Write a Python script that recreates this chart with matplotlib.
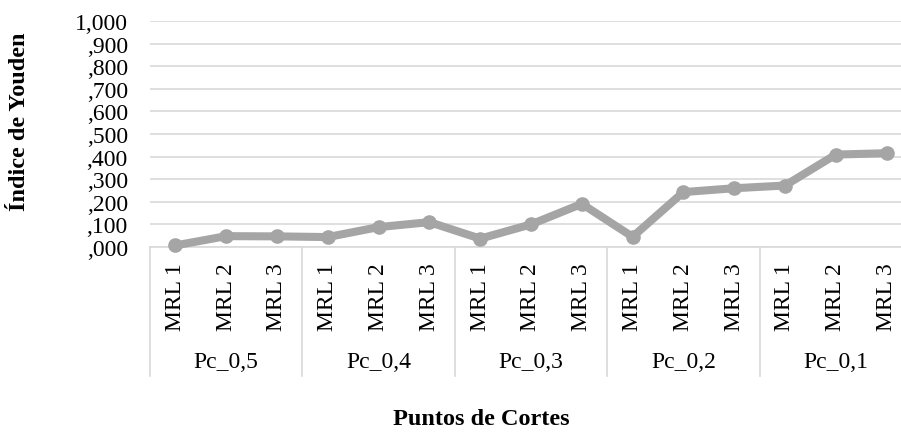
import matplotlib.pyplot as plt
from matplotlib.ticker import FuncFormatter

plt.rcParams['font.family'] = ['Liberation Serif', 'DejaVu Serif']

groups = ["Pc_0,5", "Pc_0,4", "Pc_0,3", "Pc_0,2", "Pc_0,1"]
models = ["MRL 1", "MRL 2", "MRL 3"]
youden = [0.007, 0.048, 0.047, 0.044, 0.088, 0.110,
          0.037, 0.100, 0.191, 0.045, 0.243, 0.260,
          0.272, 0.409, 0.415]

W, H = 901, 435
fig = plt.figure(figsize=(W / 100, H / 100), dpi=100)
# plot area in pixels: x 150..912 (runs past the right edge), y 22..248
ax = fig.add_axes([150 / W, 1 - 248 / H, 762 / W, 226 / H])

x = list(range(len(youden)))
ax.plot(x, youden, color='#A5A5A5', lw=5.8, marker='o', ms=9.5,
        solid_capstyle='round', zorder=3, clip_on=False)

ax.set_xlim(-0.5, len(youden) - 0.5)
ax.set_ylim(0, 1)
ax.set_yticks([i / 10 for i in range(11)])
ax.yaxis.set_major_formatter(FuncFormatter(
    lambda v, p: "1,000" if v >= 0.999 else ",%03d" % round(v * 1000)))
ax.grid(axis='y', color='#D9D9D9', lw=1.2)
ax.set_axisbelow(True)
for s in ['top', 'right', 'left']:
    ax.spines[s].set_visible(False)
ax.spines['bottom'].set_color('#D9D9D9')
ax.spines['bottom'].set_linewidth(1.2)
ax.tick_params(axis='y', length=0, pad=16, labelsize=17)

ax.set_xticks(x)
ax.set_xticklabels(models * len(groups), rotation=90, fontsize=17)
ax.tick_params(axis='x', length=0, pad=11)

# group separators and group labels below the axis
low = -(377 - 248) / 226
tr = ax.get_xaxis_transform()
for i in range(len(groups) + 1):
    xb = i * 3 - 0.5
    ax.plot([xb, xb], [0, low], transform=tr, color='#D9D9D9', lw=1.2,
            clip_on=False)
for i, g in enumerate(groups):
    ax.text(i * 3 + 1, -(363 - 248) / 226, g, transform=tr, ha='center',
            va='center', fontsize=17)

fig.text(20 / W, 1 - 122 / H, "Índice de Youden", rotation=90, ha='center',
         va='center', fontsize=17.5, fontweight='bold')
fig.text(481 / W, 1 - 420 / H, "Puntos de Cortes", ha='center',
         va='center', fontsize=17.5, fontweight='bold')

fig.savefig('out.png', dpi=100)
